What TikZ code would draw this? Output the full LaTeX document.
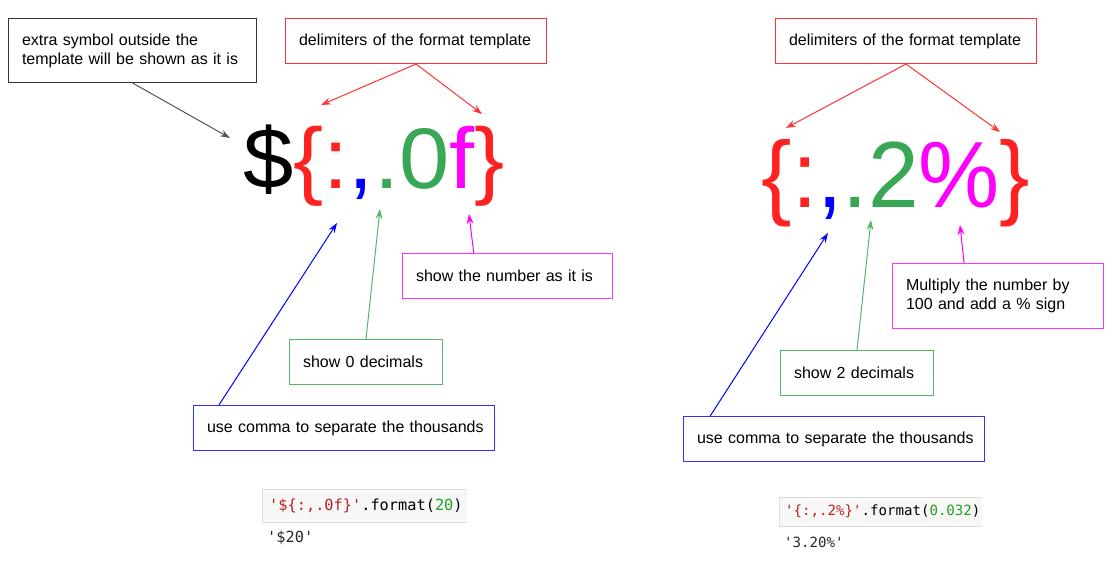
\documentclass[tikz,border=0pt]{standalone}
\usepackage{fontspec}
\usepackage{graphicx}
\setmainfont{Liberation Sans}
\newfontfamily\codefont{DejaVu Sans Mono}
\usetikzlibrary{arrows.meta,calc}
\newcommand\sq{\char"27\relax}
\hyphenpenalty=10000
\exhyphenpenalty=10000

\begin{document}
\begin{tikzpicture}[x=1pt,y=-1pt,
  lbl/.style={draw, line width=1pt, inner xsep=13.5pt, inner ysep=0pt, align=left,
    anchor=north west, font=\fontsize{16}{19}\selectfont},
  tip/.style={-{Stealth[length=10pt,width=7pt,inset=3.5pt]}, line width=1pt},
  codebox/.style={fill=codeBg, draw=none, anchor=north west, inner sep=0pt}]

% Colori
\definecolor{colRed}{HTML}{FF2222}
\definecolor{lineRed}{HTML}{FF3333}
\definecolor{colGreen}{HTML}{3AA757}
\definecolor{lineGreen}{HTML}{55B866}
\definecolor{colBlue}{HTML}{0000FF}
\definecolor{lineBlue}{HTML}{3333FF}
\definecolor{colMag}{HTML}{FF00FF}
\definecolor{lineMag}{HTML}{FF33FF}
\definecolor{lineGray}{HTML}{555555}
\definecolor{codeBg}{HTML}{F7F7F7}
\definecolor{codeLine}{HTML}{DDDDDD}
\definecolor{codeStr}{HTML}{BA2121}
\definecolor{codeNum}{HTML}{22A022}

\useasboundingbox (0,0) rectangle (1116,560);

% Formati grandi
\node[anchor=base, inner sep=0pt, font=\fontsize{86}{86}\selectfont] (fmtL) at (374,188)
  {\scalebox{1.05}[1]{\$\textcolor{colRed}{\{:}\textcolor{colBlue}{,}\textcolor{colGreen}{.0}\textcolor{colMag}{f}\textcolor{colRed}{\}}}};
\node[anchor=base, inner sep=0pt, font=\fontsize{94}{94}\selectfont] (fmtR) at (896,207)
  {\scalebox{0.97}[1]{\textcolor{colRed}{\{:}\textcolor{colBlue}{,}\textcolor{colGreen}{.2}\textcolor{colMag}{\%}\textcolor{colRed}{\}}}};

% Punte delle frecce
\coordinate (tipDollar) at (230,138);
\coordinate (tipLbrL) at (321,105);
\coordinate (tipRbrL) at (482,114);
\coordinate (tipCommaL) at (337,223);
\coordinate (tipZeroL) at (380,209);
\coordinate (tipFL) at (469,214);
\coordinate (tipLbrR) at (786,128);
\coordinate (tipRbrR) at (1000,132);
\coordinate (tipCommaR) at (828,233);
\coordinate (tipTwoR) at (871,220);
\coordinate (tipPctR) at (960,225);

% Riquadri - sinistra
\node[lbl, draw=black!80, text width=221pt, minimum height=64pt] (extra) at (8,18)
  {extra symbol outside the\\template will be shown as it is};
\node[lbl, draw=lineRed, text width=234pt, minimum height=45pt] (delimL) at (285,18)
  {\mbox{delimiters of the format template}};
\node[lbl, draw=lineMag, text width=183pt, minimum height=45pt] (showL) at (402,253)
  {\mbox{show the number as it is}};
\node[lbl, draw=lineGreen, text width=126pt, minimum height=45pt] (zeroL) at (289,339)
  {\mbox{show 0 decimals}};
\node[lbl, draw=lineBlue, text width=274pt, minimum height=45pt] (commaL) at (193,405)
  {\mbox{use comma to separate the thousands}};

% Riquadri - destra
\node[lbl, draw=lineRed, text width=234pt, minimum height=45pt] (delimR) at (775,18)
  {\mbox{delimiters of the format template}};
\node[lbl, draw=lineMag, text width=184pt, minimum height=65pt] (mulR) at (892,263)
  {Multiply the number by\\100 and add a \% sign};
\node[lbl, draw=lineGreen, text width=126pt, minimum height=45pt] (twoR) at (780,350)
  {\mbox{show 2 decimals}};
\node[lbl, draw=lineBlue, text width=274pt, minimum height=45pt] (commaR) at (683,416)
  {\mbox{use comma to separate the thousands}};

% Frecce - sinistra
\draw[tip, lineGray] (extra.south) -- (tipDollar);
\draw[tip, lineRed] (delimL.south) -- (tipLbrL);
\draw[tip, lineRed] (delimL.south) -- (tipRbrL);
\draw[tip, colMag] ($(showL.north west)!0.34!(showL.north east)$) -- (tipFL);
\draw[tip, lineGreen] (zeroL.north) -- (tipZeroL);
\draw[tip, colBlue] ($(commaL.north west)!0.086!(commaL.north east)$) -- (tipCommaL);

% Frecce - destra
\draw[tip, lineRed] (delimR.south) -- (tipLbrR);
\draw[tip, lineRed] (delimR.south) -- (tipRbrR);
\draw[tip, colMag] ($(mulR.north west)!0.34!(mulR.north east)$) -- (tipPctR);
\draw[tip, lineGreen] (twoR.north) -- (tipTwoR);
\draw[tip, colBlue] ($(commaR.north west)!0.09!(commaR.north east)$) -- (tipCommaR);

% Codice - sinistra
\node[codebox, minimum width=205pt, minimum height=33pt] (codeL) at (262,489) {};
\draw[codeLine, line width=0.8pt] (codeL.north east) -- (codeL.north west) -- (codeL.south west) -- (codeL.south east);
\node[anchor=west, inner sep=0pt, font=\codefont\fontsize{15.3}{18}\selectfont] (codeTxtL) at ([xshift=7pt]codeL.west)
  {\textcolor{codeStr}{\sq\$\{:,.0f\}\sq}.format(\textcolor{codeNum}{20})};
\node[anchor=west, inner sep=0pt, text=black!85, font=\codefont\fontsize{15.3}{18}\selectfont] (outL) at (267,538)
  {\sq\$20\sq};

% Codice - destra
\node[codebox, minimum width=203pt, minimum height=29pt] (codeR) at (779,497) {};
\draw[codeLine, line width=0.8pt] (codeR.north east) -- (codeR.north west) -- (codeR.south west) -- (codeR.south east);
\node[anchor=west, inner sep=0pt, font=\codefont\fontsize{14.1}{17}\selectfont] (codeTxtR) at ([xshift=6pt]codeR.west)
  {\textcolor{codeStr}{\sq\{:,.2\%\}\sq}.format(\textcolor{codeNum}{0.032})};
\node[anchor=west, inner sep=0pt, text=black!85, font=\codefont\fontsize{14.1}{17}\selectfont] (outR) at (784,542)
  {\sq 3.20\%\sq};

\end{tikzpicture}
\end{document}
